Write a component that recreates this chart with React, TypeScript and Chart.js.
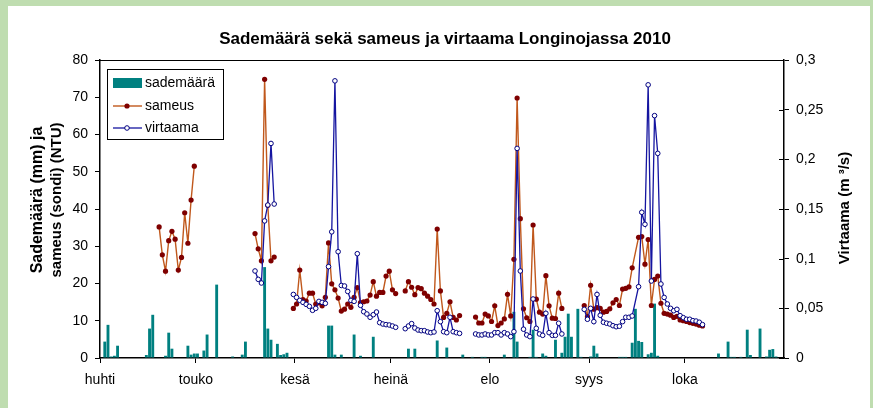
import React, { useEffect, useRef } from 'react';
import { Chart, registerables } from 'chart.js';

Chart.register(...registerables);

const FONT = "'Liberation Sans', Arial, Helvetica, sans-serif";

const TITLE = 'Sademäärä sekä sameus ja virtaama Longinojassa 2010';
const LEFT_TITLE = ['Sademäärä (mm) ja', 'sameus (sondi) (NTU)'];
const RIGHT_TITLE = 'Virtaama (m ³/s)';
const SERIES_NAMES = ['sademäärä', 'sameus', 'virtaama'];

// x axis: days from 1 April (day 0) to 31 October (day 213)
const DAY_COUNT = 214;
const MONTHS = ['huhti', 'touko', 'kesä', 'heinä', 'elo', 'syys', 'loka'];
const MONTH_START_DAYS = [0, 30, 61, 91, 122, 153, 183];

const LEFT_TICKS_MAX = 80;
const LEFT_TICK_STEP = 10;
const RIGHT_TICKS_MAX = 0.3;
const RIGHT_TICK_STEP = 0.05;

// precipitation (mm), day index -> value
const rainDays = [1, 2, 3, 4, 5, 14, 15, 16, 20, 21, 22, 27, 28, 29, 30, 32, 33, 36, 41, 44, 45, 51, 52, 53, 55, 56, 57, 58, 71, 72, 73, 75, 79, 81, 85, 96, 98, 105, 108, 113, 116, 119, 120, 126, 129, 130, 134, 135, 136, 138, 139, 142, 144, 145, 146, 147, 149, 150, 153, 154, 155, 162, 163, 164, 166, 167, 168, 169, 171, 172, 173, 174, 193, 196, 197, 198, 200, 202, 203, 206, 208, 209, 210, 211];
const rainMm = [4.4, 8.9, 0.4, 0.6, 3.3, 0.8, 7.9, 11.6, 0.6, 6.8, 2.5, 3.3, 0.9, 1.2, 1.2, 2.0, 6.3, 19.7, 0.4, 0.9, 4.4, 24.4, 7.9, 4.9, 3.8, 0.8, 1.0, 1.4, 8.7, 8.7, 0.9, 0.9, 6.3, 0.6, 5.7, 2.5, 2.5, 4.7, 2.8, 0.9, 0.3, 0.3, 0.3, 0.9, 12.4, 4.4, 0.3, 7.6, 0.3, 1.2, 0.6, 4.9, 1.4, 5.7, 11.9, 5.7, 13.2, 0.3, 0.4, 3.3, 1.2, 0.3, 0.3, 0.3, 4.1, 13.2, 4.6, 4.3, 1.0, 1.4, 14.6, 0.6, 1.2, 4.4, 0.3, 0.3, 0.3, 7.6, 0.8, 7.9, 0.4, 2.2, 2.4, 0.4];

// turbidity (NTU): measurement periods, first day index + daily values
const sameusMayStart = 18;
const sameusMay = [35.2, 27.7, 23.3, 31.5, 34.0, 31.9, 23.6, 27.0, 39.0, 30.8, 42.4, 51.5];
const sameusJuneStart = 48;
const sameusJune = [33.4, 29.3, 26.1, 74.8, 41.0, 26.1, 27.1];
const sameusJulyStart = 60;
const sameusJuly = [13.3, 14.5, 23.6, 15.7, 15.3, 17.4, 17.4, 14.5, 14.8, 14.0, 16.3, 30.9, 19.9, 18.3, 16.1, 12.6, 13.1, 14.5, 13.6, 16.3, 18.9, 14.9, 15.1, 15.3, 16.9, 20.5, 16.6, 17.6, 17.6, 22.0, 23.3, 18.3, 17.3];
const sameusLateJulyStart = 95;
const sameusLateJuly = [18.0, 20.5, 19.0, 17.0, 18.9, 18.6, 17.4, 16.6, 15.7, 14.5, 34.6, 18.0, 10.9, 12.0, 15.1, 10.9, 10.2, 11.4];
const sameusAugStart = 117;
const sameusAug = [11.0, 9.4, 9.4, 11.8, 11.3, 9.8, 14.0, 8.7, 9.4, 10.5, 17.1, 11.3, 26.5, 69.8, 37.4, 13.2, 10.8, 9.8, 35.7, 15.8, 12.3, 11.8, 22.1, 14.0, 10.7, 10.6, 17.4, 13.3];
const sameusSepStart = 151;
const sameusSep = [14.1, 11.1, 19.5, 13.1, 13.5, 13.3, 12.3, 12.5, 13.2, 14.8, 15.7, 14.1, 18.5, 18.7, 19.1, 24.2];
const sameusOctStart = 168;
const sameusOct = [32.4, 32.6, 25.2, 31.8, 14.1, 21.1, 22.0, 14.7, 12.0, 11.8, 11.5, 10.9, 11.2, 10.2, 10.0, 9.8, 9.5, 9.3, 9.1, 8.8, 8.6];

// discharge (m3/s)
const virtJuneStart = 48;
const virtJune = [0.0876, 0.0792, 0.0755, 0.138, 0.154, 0.216, 0.155];
const virtJulyStart = 60;
const virtJuly = [0.064, 0.061, 0.058, 0.056, 0.054, 0.052, 0.048, 0.050, 0.057, 0.056, 0.055, 0.092, 0.127, 0.279, 0.107, 0.073, 0.0725, 0.067, 0.058, 0.057, 0.105, 0.053, 0.0466, 0.0443, 0.041, 0.0436, 0.0463, 0.0356, 0.0342, 0.0336, 0.0332, 0.0322, 0.0309];
const virtLateJulyStart = 95;
const virtLateJuly = [0.0295, 0.0322, 0.0346, 0.0302, 0.0282, 0.0275, 0.0275, 0.0262, 0.0255, 0.0262, 0.0476, 0.0366, 0.0265, 0.0255, 0.041, 0.0265, 0.0255, 0.0248];
const virtAugStart = 117;
const virtAug = [0.0242, 0.0232, 0.0232, 0.0242, 0.0232, 0.0232, 0.0255, 0.0255, 0.0232, 0.0255, 0.0242, 0.0215, 0.0265, 0.211, 0.0876, 0.029, 0.0232, 0.0215, 0.0594, 0.0299, 0.0242, 0.0228, 0.045, 0.0255, 0.0228, 0.0228, 0.035, 0.0242];
const virtSepStart = 151;
const virtSep = [0.049, 0.039, 0.050, 0.0366, 0.064, 0.043, 0.036, 0.035, 0.0342, 0.0325, 0.0315, 0.032, 0.0366, 0.041, 0.041, 0.0423];
const virtOctStart = 168;
const virtOct = [0.0718, 0.1467, 0.1346, 0.275, 0.0775, 0.244, 0.206, 0.0745, 0.061, 0.0544, 0.050, 0.0476, 0.049, 0.0426, 0.0406, 0.039, 0.039, 0.0376, 0.0372, 0.036, 0.0336];

const BAR_COLOR = '#008080';
const SAMEUS_LINE = '#c0581c';
const SAMEUS_POINT = '#7f0000';
const VIRTAAMA_LINE = '#1515a0';
const VIRTAAMA_POINT = '#000080';

type Pt = { x: number; y: number };

function segmentPoints(parts: [number, number[]][]): Pt[] {
  const out: Pt[] = [];
  parts.forEach(([start, vals]) => {
    vals.forEach((v, i) => out.push({ x: start + i + 0.5, y: v }));
  });
  return out;
}

const decorPlugin = {
  id: 'decor',
  beforeDraw(chart: any) {
    const { ctx, width, height } = chart;
    ctx.save();
    ctx.fillStyle = '#bfddb0';
    ctx.fillRect(0, 0, width, height);
    ctx.fillStyle = '#ffffff';
    ctx.fillRect(8, 6, 862, height - 6);
    ctx.restore();
  },
  afterDraw(chart: any) {
    const { ctx, chartArea: ca } = chart;
    ctx.save();
    // top frame line of plot
    ctx.strokeStyle = '#000';
    ctx.lineWidth = 1;
    ctx.beginPath();
    ctx.moveTo(ca.left, ca.top + 0.5);
    ctx.lineTo(ca.right, ca.top + 0.5);
    ctx.stroke();

    // right axis ticks cross the axis line: inner halves
    const y2 = chart.scales.y2;
    ctx.beginPath();
    y2.ticks.forEach((t: any) => {
      const py = Math.round(y2.getPixelForValue(t.value)) + 0.5;
      ctx.moveTo(ca.right - 5, py);
      ctx.lineTo(ca.right, py);
    });
    ctx.stroke();

    // title
    ctx.fillStyle = '#000';
    ctx.font = `bold 17px ${FONT}`;
    ctx.textAlign = 'center';
    ctx.textBaseline = 'alphabetic';
    ctx.fillText(TITLE, 445, 44);

    // left axis title (two lines)
    ctx.textBaseline = 'middle';
    ctx.save();
    ctx.font = `bold 16px ${FONT}`;
    ctx.translate(38, 200);
    ctx.rotate(-Math.PI / 2);
    ctx.fillText(LEFT_TITLE[0], 0, 0);
    ctx.restore();
    ctx.save();
    ctx.font = `bold 15px ${FONT}`;
    ctx.translate(57, 200);
    ctx.rotate(-Math.PI / 2);
    ctx.fillText(LEFT_TITLE[1], 0, 0);
    ctx.restore();

    // right axis title
    ctx.save();
    ctx.font = `bold 15px ${FONT}`;
    ctx.translate(845, 208);
    ctx.rotate(-Math.PI / 2);
    ctx.fillText(RIGHT_TITLE, 0, 0);
    ctx.restore();

    // legend
    const lx = 107, ly = 69, lw = 116, lh = 70;
    ctx.fillStyle = '#fff';
    ctx.fillRect(lx, ly, lw, lh);
    ctx.strokeStyle = '#000';
    ctx.lineWidth = 1;
    ctx.strokeRect(lx + 0.5, ly + 0.5, lw, lh);
    ctx.font = `14px ${FONT}`;
    ctx.textAlign = 'left';
    ctx.textBaseline = 'middle';
    // bars
    ctx.fillStyle = BAR_COLOR;
    ctx.fillRect(113, 78, 29, 10);
    ctx.fillStyle = '#000';
    ctx.fillText(SERIES_NAMES[0], 145, 83);
    // sameus
    ctx.strokeStyle = SAMEUS_LINE;
    ctx.lineWidth = 1.4;
    ctx.beginPath();
    ctx.moveTo(113, 106);
    ctx.lineTo(142, 106);
    ctx.stroke();
    ctx.fillStyle = SAMEUS_POINT;
    ctx.beginPath();
    ctx.arc(127, 106, 2.6, 0, Math.PI * 2);
    ctx.fill();
    ctx.fillStyle = '#000';
    ctx.fillText(SERIES_NAMES[1], 145, 106);
    // virtaama
    ctx.strokeStyle = VIRTAAMA_LINE;
    ctx.lineWidth = 1.3;
    ctx.beginPath();
    ctx.moveTo(113, 128);
    ctx.lineTo(142, 128);
    ctx.stroke();
    ctx.fillStyle = '#fff';
    ctx.strokeStyle = VIRTAAMA_POINT;
    ctx.lineWidth = 1;
    ctx.beginPath();
    ctx.arc(127, 128, 2.3, 0, Math.PI * 2);
    ctx.fill();
    ctx.stroke();
    ctx.fillStyle = '#000';
    ctx.fillText(SERIES_NAMES[2], 145, 128);
    ctx.restore();
  },
};

export default function App() {
  const ref = useRef<HTMLCanvasElement | null>(null);

  useEffect(() => {
    const canvas = ref.current;
    if (!canvas) return;

    const rainPoints = rainDays.map((d, i) => ({ x: d + 0.5, y: rainMm[i] }));
    const sameusPoints = segmentPoints([
      [sameusMayStart, sameusMay],
      [sameusJuneStart, sameusJune],
      [sameusJulyStart, sameusJuly],
      [sameusLateJulyStart, sameusLateJuly],
      [sameusAugStart, sameusAug],
      [sameusSepStart, sameusSep],
      [sameusOctStart, sameusOct],
    ]);
    const virtPoints = segmentPoints([
      [virtJuneStart, virtJune],
      [virtJulyStart, virtJuly],
      [virtLateJulyStart, virtLateJuly],
      [virtAugStart, virtAug],
      [virtSepStart, virtSep],
      [virtOctStart, virtOct],
    ]);

    const tickFont = { family: FONT, size: 14 };

    const chart = new Chart(canvas, {
      type: 'line',
      data: {
        datasets: [
          {
            type: 'bar',
            label: SERIES_NAMES[0],
            data: rainPoints as any,
            yAxisID: 'y',
            backgroundColor: BAR_COLOR,
            borderWidth: 0,
            barPercentage: 1,
            categoryPercentage: 0.9,
            order: 3,
          } as any,
          {
            type: 'line',
            label: SERIES_NAMES[1],
            data: sameusPoints as any,
            yAxisID: 'y',
            borderColor: SAMEUS_LINE,
            borderWidth: 1.4,
            pointRadius: 2.6,
            pointBackgroundColor: SAMEUS_POINT,
            pointBorderColor: SAMEUS_POINT,
            pointBorderWidth: 0,
            spanGaps: 2.5,
            tension: 0,
            order: 2,
          } as any,
          {
            type: 'line',
            label: SERIES_NAMES[2],
            data: virtPoints as any,
            yAxisID: 'y2',
            borderColor: VIRTAAMA_LINE,
            borderWidth: 1.3,
            pointRadius: 2.3,
            pointBackgroundColor: '#ffffff',
            pointBorderColor: VIRTAAMA_POINT,
            pointBorderWidth: 1,
            spanGaps: 2.5,
            tension: 0,
            order: 1,
          } as any,
        ],
      },
      options: {
        responsive: false,
        animation: false,
        devicePixelRatio: 1,
        layout: { padding: { top: 60, left: 0, right: 0, bottom: 0 } },
        plugins: {
          legend: { display: false },
          tooltip: { enabled: false },
          title: { display: false },
        },
        scales: {
          x: {
            type: 'linear',
            min: 0,
            max: DAY_COUNT,
            offset: false,
            afterBuildTicks: (s: any) => {
              s.ticks = MONTH_START_DAYS.map((v) => ({ value: v }));
            },
            afterFit: (s: any) => {
              s.height = 50;
            },
            ticks: {
              autoSkip: false,
              maxRotation: 0,
              minRotation: 0,
              padding: 9,
              color: '#000',
              font: tickFont,
              callback: (v: any) => {
                const i = MONTH_START_DAYS.indexOf(Number(v));
                return i >= 0 ? MONTHS[i] : '';
              },
            },
            grid: {
              drawOnChartArea: false,
              drawTicks: true,
              tickLength: 5,
              color: '#000',
              offset: false,
            },
            border: { display: true, color: '#000', width: 1.5 },
          },
          y: {
            type: 'linear',
            position: 'left',
            min: 0,
            max: LEFT_TICKS_MAX,
            afterFit: (s: any) => {
              s.width = 100;
            },
            ticks: {
              stepSize: LEFT_TICK_STEP,
              padding: 7,
              color: '#000',
              font: tickFont,
            },
            grid: { drawOnChartArea: false, tickLength: 5, color: '#000' },
            border: { display: true, color: '#000', width: 1.5 },
          },
          y2: {
            type: 'linear',
            position: 'right',
            min: 0,
            max: RIGHT_TICKS_MAX,
            afterFit: (s: any) => {
              s.width = 89;
            },
            ticks: {
              stepSize: RIGHT_TICK_STEP,
              padding: 7,
              color: '#000',
              font: tickFont,
              callback: (v: any) => String(Number(Number(v).toFixed(2))).replace('.', ','),
            },
            grid: { drawOnChartArea: false, tickLength: 5, color: '#000' },
            border: { display: true, color: '#000', width: 1.5 },
          },
        },
      } as any,
      plugins: [decorPlugin],
    });

    return () => chart.destroy();
  }, []);

  return (
    <div style={{ position: 'absolute', left: 0, top: 0, width: 873, height: 408 }}>
      <canvas ref={ref} width={873} height={408} style={{ display: 'block', width: 873, height: 408 }} />
    </div>
  );
}
